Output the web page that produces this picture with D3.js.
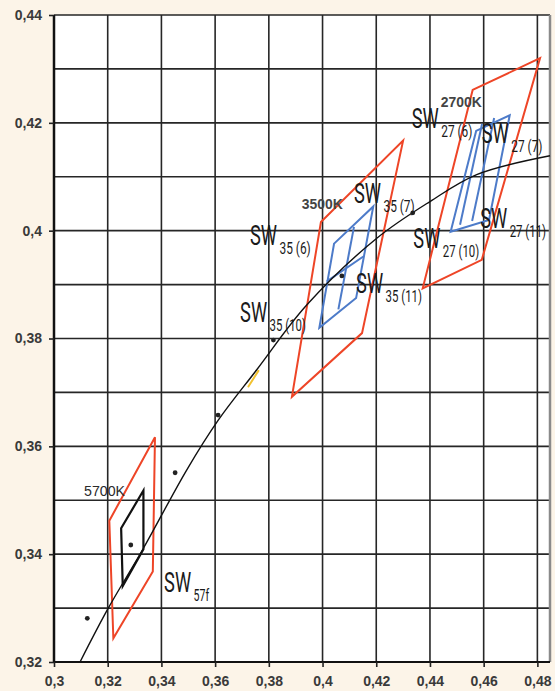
<!DOCTYPE html>
<html>
<head>
<meta charset="utf-8">
<script src="https://cdn.jsdelivr.net/npm/d3@7"></script>
<style>
  html, body { margin: 0; padding: 0; background: #fcf4e8; }
  svg { display: block; }
</style>
</head>
<body>
<svg id="chart" width="555" height="691"></svg>
<script>
// chromaticity data (x, y)
const xTicks = [0.3, 0.32, 0.34, 0.36, 0.38, 0.4, 0.42, 0.44, 0.46, 0.48];
const yTicks = [0.32, 0.34, 0.36, 0.38, 0.4, 0.42, 0.44];
const xGrid = [0.32, 0.34, 0.36, 0.38, 0.4, 0.42, 0.44, 0.46, 0.48];
const yGrid = [0.33, 0.34, 0.35, 0.36, 0.37, 0.38, 0.39, 0.4, 0.41, 0.42, 0.43, 0.44];

const locus = [
  [0.3097, 0.3200], [0.3200, 0.3298], [0.3333, 0.3411], [0.3494, 0.3556],
  [0.3611, 0.3648], [0.3755, 0.3742], [0.3941, 0.3862], [0.4202, 0.3986],
  [0.4400, 0.4054], [0.4574, 0.4104], [0.4847, 0.4139]
];

const measured = [
  [0.3124, 0.3281], [0.3286, 0.3417], [0.3451, 0.3551], [0.3611, 0.3658],
  [0.3817, 0.3797], [0.4072, 0.3916], [0.4336, 0.4033]
];

const redBins = [
  [[0.3206, 0.3462], [0.3376, 0.3617], [0.3368, 0.3368], [0.3221, 0.3244]],
  [[0.3994, 0.4016], [0.4300, 0.4167], [0.4147, 0.3810], [0.3886, 0.3692]],
  [[0.4559, 0.4261], [0.4810, 0.4320], [0.4593, 0.3946], [0.4373, 0.3893]]
];

const blackBin = [[0.3250, 0.3448], [0.3333, 0.3518], [0.3333, 0.3409], [0.3256, 0.3341]];

const blueBins = [
  [[0.4043, 0.3976], [0.4189, 0.4045], [0.4125, 0.3875], [0.3988, 0.3820]],
  [[0.4572, 0.4185], [0.4697, 0.4214], [0.4620, 0.4020], [0.4477, 0.3998]]
];

const blueDividers = [
  [[0.4117, 0.4007], [0.4059, 0.3854]],
  [[0.4016, 0.3906], [0.4152, 0.3952]],
  [[0.4594, 0.4198], [0.4512, 0.4011]],
  [[0.4639, 0.4209], [0.4557, 0.4018]]
];

const yellowMark = [[0.3724, 0.3711], [0.3761, 0.3740]];

const binNames = ['57f', '35 (6)', '35 (7)', '35 (11)', '35 (10)', '27 (6)', '27 (7)', '27 (10)', '27 (11)'];
const binAt = [
  [0.3410, 0.3330], [0.3730, 0.3974], [0.4117, 0.4051], [0.4125, 0.3884], [0.3693, 0.3831],
  [0.4332, 0.4190], [0.4593, 0.4162], [0.4338, 0.3968], [0.4587, 0.4005]
];

const cctNames = ['5700K', '3500K', '2700K'];
const cctAt = [[0.3112, 0.3508], [0.3923, 0.4040], [0.4440, 0.4229]];

const margin = { top: 15, right: 5, bottom: 29, left: 54 };
const width = 555 - margin.left - margin.right;
const height = 691 - margin.top - margin.bottom;

const drawChart = () => {
  const svg = d3.select('#chart');

  const x = d3.scaleLinear().domain([0.3, 0.4847]).range([margin.left, margin.left + width]);
  const y = d3.scaleLinear().domain([0.32, 0.44]).range([margin.top + height, margin.top]);
  const comma = d => String(d).replace('.', ',');

  // plot area
  svg.append('rect')
    .attr('x', x(0.3)).attr('y', y(0.44))
    .attr('width', x(0.4847) - x(0.3)).attr('height', y(0.32) - y(0.44))
    .attr('fill', '#fff');

  // grid
  svg.selectAll('.vgrid')
    .data(xGrid)
    .enter()
    .append('line')
    .attr('x1', d => x(d)).attr('x2', d => x(d))
    .attr('y1', y(0.44)).attr('y2', y(0.32))
    .attr('stroke', '#262626')
    .attr('stroke-width', 1.6);

  svg.selectAll('.hgrid')
    .data(yGrid)
    .enter()
    .append('line')
    .attr('x1', x(0.3)).attr('x2', x(0.4847))
    .attr('y1', d => y(d)).attr('y2', d => y(d))
    .attr('stroke', '#262626')
    .attr('stroke-width', 1.6);

  // frame
  svg.append('line')
    .attr('x1', x(0.4847)).attr('x2', x(0.4847))
    .attr('y1', y(0.44)).attr('y2', y(0.32))
    .attr('stroke', '#8a8a8a').attr('stroke-width', 2.5);
  svg.append('line')
    .attr('x1', x(0.3)).attr('x2', x(0.4847))
    .attr('y1', y(0.32)).attr('y2', y(0.32))
    .attr('stroke', '#111').attr('stroke-width', 2);
  svg.append('line')
    .attr('x1', x(0.3)).attr('x2', x(0.3))
    .attr('y1', y(0.44)).attr('y2', y(0.32))
    .attr('stroke', '#111').attr('stroke-width', 2.5);

  // axes
  const yAxis = svg.append('g')
    .attr('transform', `translate(${x(0.3)},0)`)
    .call(d3.axisLeft(y).tickValues(yTicks).tickSize(5).tickPadding(7).tickFormat(comma));
  const xAxis = svg.append('g')
    .attr('transform', `translate(0,${y(0.32)})`)
    .call(d3.axisBottom(x).tickValues(xTicks).tickSize(5).tickPadding(9).tickFormat(comma));

  svg.selectAll('.domain').remove();
  [xAxis, yAxis].forEach(g => {
    g.selectAll('.tick line').attr('stroke', '#222').attr('stroke-width', 1.6);
    g.selectAll('.tick text')
      .attr('fill', '#3a3a3a')
      .style('font-family', 'Liberation Sans, Arial, sans-serif')
      .style('font-size', '14px')
      .style('font-weight', 'bold');
  });

  const line = d3.line().x(d => x(d[0])).y(d => y(d[1]));
  const poly = d => line(d) + 'Z';

  // bins
  svg.selectAll('.red')
    .data(redBins)
    .enter()
    .append('path')
    .attr('d', poly)
    .attr('fill', 'none')
    .attr('stroke', '#ee4527')
    .attr('stroke-width', 2)
    .attr('stroke-linejoin', 'miter');

  svg.selectAll('.blue')
    .data(blueBins.concat(blueDividers))
    .enter()
    .append('path')
    .attr('d', (d, i) => i < blueBins.length ? poly(d) : line(d))
    .attr('fill', 'none')
    .attr('stroke', '#4d7bc9')
    .attr('stroke-width', 2);

  svg.append('path')
    .attr('d', poly(blackBin))
    .attr('fill', 'none')
    .attr('stroke', '#111')
    .attr('stroke-width', 2.2);

  svg.append('path')
    .attr('d', line(yellowMark))
    .attr('stroke', '#f2c230')
    .attr('stroke-width', 2)
    .attr('stroke-linecap', 'round');

  // planckian locus
  svg.append('path')
    .attr('d', d3.line().x(d => x(d[0])).y(d => y(d[1])).curve(d3.curveCatmullRom)(locus))
    .attr('fill', 'none')
    .attr('stroke', '#111')
    .attr('stroke-width', 1.4);

  svg.selectAll('.dot')
    .data(measured)
    .enter()
    .append('circle')
    .attr('cx', d => x(d[0]))
    .attr('cy', d => y(d[1]))
    .attr('r', 2.4)
    .attr('fill', '#222');

  // labels
  const font = 'Liberation Sans Narrow, Roboto, Liberation Sans, sans-serif';
  const labels = svg.selectAll('.bin')
    .data(binNames)
    .enter()
    .append('g')
    .attr('transform', (d, i) => `translate(${x(binAt[i][0])},${y(binAt[i][1])})`);

  labels.append('text')
    .text('SW')
    .attr('fill', '#1a1a1a')
    .style('font-family', font)
    .style('font-size', '28px')
    .attr('textLength', 27)
    .attr('lengthAdjust', 'spacingAndGlyphs');

  labels.append('text')
    .text(d => d)
    .attr('x', 29.5)
    .attr('y', 9)
    .attr('fill', '#1a1a1a')
    .style('font-family', font)
    .style('font-size', '17px')
    .attr('textLength', d => d.length * 5.2)
    .attr('lengthAdjust', 'spacingAndGlyphs');

  svg.selectAll('.cct')
    .data(cctNames)
    .enter()
    .append('text')
    .text(d => d)
    .attr('x', (d, i) => x(cctAt[i][0]))
    .attr('y', (d, i) => y(cctAt[i][1]))
    .attr('fill', (d, i) => i === 0 ? '#2a2a2a' : '#444')
    .style('font-family', 'Liberation Sans, Arial, sans-serif')
    .style('font-size', '14px')
    .style('font-weight', (d, i) => i === 0 ? 'normal' : 'bold')
    .attr('textLength', 41)
    .attr('lengthAdjust', 'spacingAndGlyphs');
};

drawChart();
</script>
</body>
</html>
